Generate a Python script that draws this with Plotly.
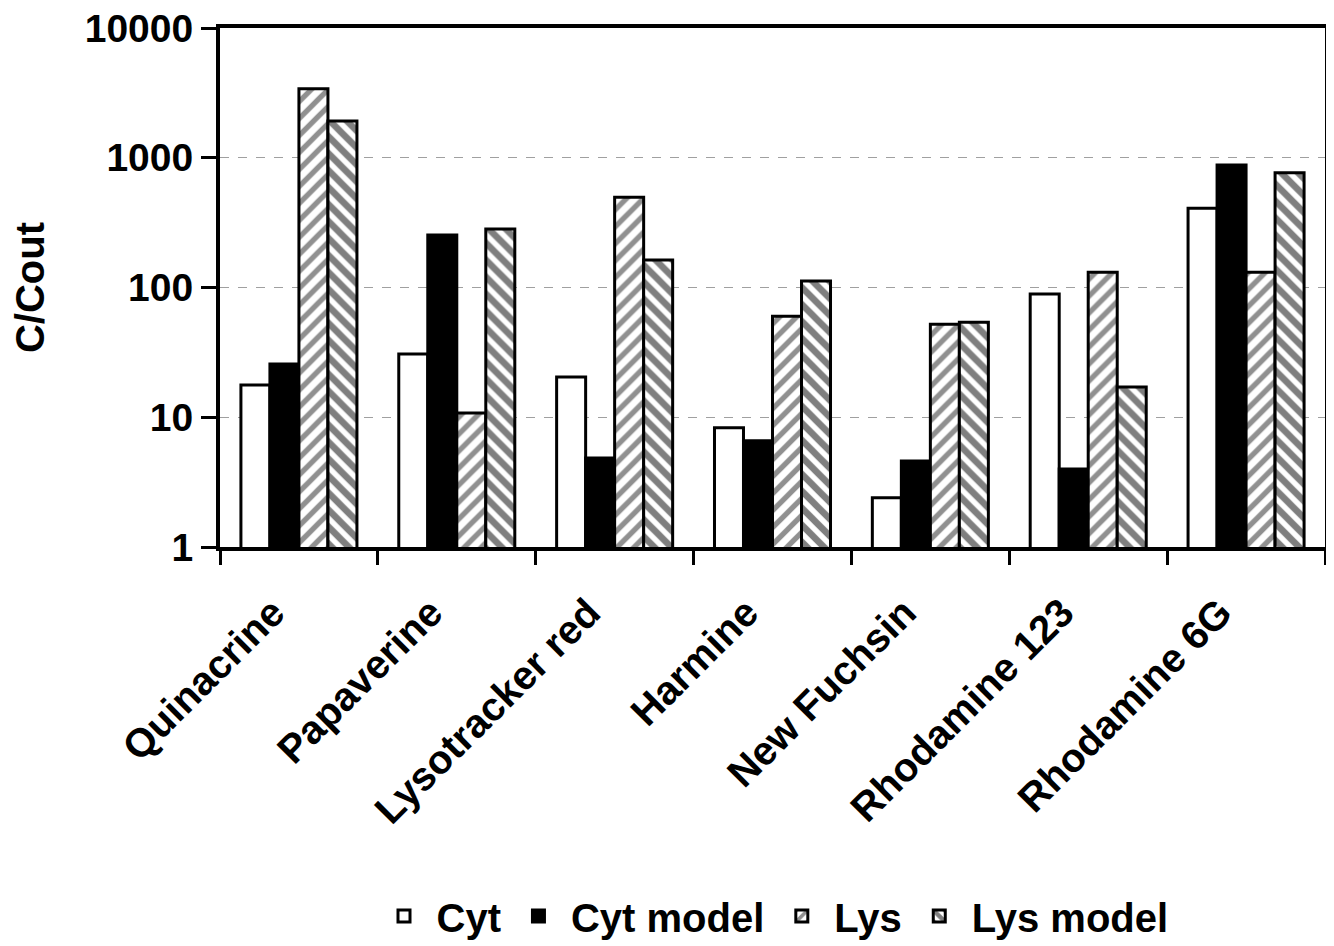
import plotly.graph_objects as go

categories = ["Quinacrine", "Papaverine", "Lysotracker red", "Harmine",
              "New Fuchsin", "Rhodamine 123", "Rhodamine 6G"]
cyt = [17.7, 30.7, 20.4, 8.3, 2.4, 89, 408]
cyt_model = [25.7, 254, 4.85, 6.6, 4.6, 4.0, 880]
lys = [3400, 10.8, 497, 60, 52, 131, 131]
lys_model = [1920, 282, 163, 112, 54, 17.1, 765]

y_tickvals = [1, 10, 100, 1000, 10000]
y_ticktext = ["1", "10", "100", "1000", "10000"]

line = dict(color="black", width=3)
fig = go.Figure()
fig.add_trace(go.Bar(name="Cyt", x=categories, y=cyt,
                     marker=dict(color="white", line=line)))
fig.add_trace(go.Bar(name="Cyt model", x=categories, y=cyt_model,
                     marker=dict(color="black", line=line)))
fig.add_trace(go.Bar(name="Lys", x=categories, y=lys,
                     marker=dict(color="white", line=line,
                                 pattern=dict(shape="/", fgcolor="#222222", bgcolor="white",
                                              size=12, solidity=0.45, fillmode="overlay"))))
fig.add_trace(go.Bar(name="Lys model", x=categories, y=lys_model,
                     marker=dict(color="white", line=line,
                                 pattern=dict(shape="\\", fgcolor="black", bgcolor="white",
                                              size=12, solidity=0.55, fillmode="overlay"))))

fig.update_layout(
    width=1334, height=946,
    margin=dict(l=212, r=17, t=20, b=407, autoexpand=False),
    paper_bgcolor="white", plot_bgcolor="white",
    font=dict(family="Liberation Sans, Arial, sans-serif", color="black", size=38, weight="bold"),
    barmode="group", bargap=0.265, bargroupgap=0,
    showlegend=True,
    legend=dict(orientation="h", x=0.5, xanchor="center", y=-0.711, yanchor="middle",
                font=dict(size=40, weight="bold"), traceorder="normal", itemwidth=55),
)
fig.update_xaxes(
    type="category", tickson="boundaries", ticks="outside", ticklen=14, tickwidth=3,
    tickcolor="black", showline=True, linewidth=4, linecolor="black", mirror=True,
    tickangle=-45, tickfont=dict(size=40, weight="bold"), showgrid=False,
    automargin=False, ticklabelstandoff=22, ticklabelshift=-26, ticklabeloverflow="allow",
)
fig.update_yaxes(
    type="log", range=[0, 4], tickvals=y_tickvals, ticktext=y_ticktext,
    ticks="outside", ticklen=15, tickwidth=3, tickcolor="black",
    showline=True, linewidth=4, linecolor="black", mirror=True,
    showgrid=True, gridcolor="#a0a0a0", gridwidth=1, griddash="dash",
    tickfont=dict(size=39, weight="bold"), ticklabeloverflow="allow",
    title=dict(text="C/Cout", font=dict(size=40, weight="bold"), standoff=42),
    zeroline=False, automargin=False,
)

fig.write_html("out.html")
